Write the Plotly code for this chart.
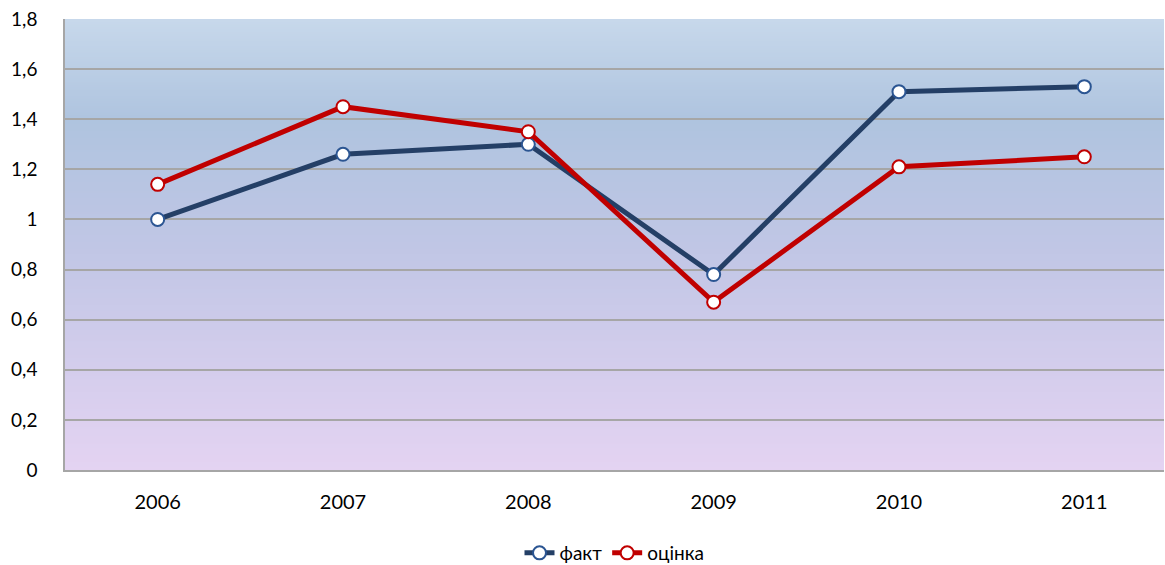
import base64
import struct
import zlib

import plotly.graph_objects as go

# Categories and series
years = ["2006", "2007", "2008", "2009", "2010", "2011"]
fact = [1.00, 1.26, 1.30, 0.78, 1.51, 1.53]
estimate = [1.14, 1.45, 1.35, 0.67, 1.21, 1.25]
y_ticks = [0, 0.2, 0.4, 0.6, 0.8, 1.0, 1.2, 1.4, 1.6, 1.8]

FONT = "Lato, 'Open Sans', sans-serif"


# Vertical gradient for the plot background, encoded as a tiny PNG
def lerp(c1, c2, t):
    return tuple(round(a + (b - a) * t) for a, b in zip(c1, c2))


stops = [(0.0, (199, 216, 235)), (0.22, (175, 196, 223)),
         (0.5, (192, 198, 229)), (1.0, (228, 211, 242))]


def grad(t):
    for (p0, c0), (p1, c1) in zip(stops[:-1], stops[1:]):
        if p0 <= t <= p1:
            return lerp(c0, c1, (t - p0) / (p1 - p0))
    return stops[-1][1]


def gradient_png(h=256, w=4):
    raw = b""
    for i in range(h):
        r, g, b = grad(i / (h - 1))
        raw += b"\x00" + bytes([r, g, b]) * w

    def chunk(tag, data):
        c = struct.pack(">I", len(data)) + tag + data
        return c + struct.pack(">I", zlib.crc32(tag + data) & 0xFFFFFFFF)

    png = b"\x89PNG\r\n\x1a\n"
    png += chunk(b"IHDR", struct.pack(">IIBBBBB", w, h, 8, 2, 0, 0, 0))
    png += chunk(b"IDAT", zlib.compress(raw))
    png += chunk(b"IEND", b"")
    return "data:image/png;base64," + base64.b64encode(png).decode()


fig = go.Figure()

fig.add_trace(go.Scatter(
    x=years, y=fact, name="факт", mode="lines+markers",
    line=dict(color="#243f66", width=5),
    marker=dict(size=13, color="white", line=dict(color="#2b5592", width=2)),
))
fig.add_trace(go.Scatter(
    x=years, y=estimate, name="оцінка", mode="lines+markers",
    line=dict(color="#c00000", width=5),
    marker=dict(size=13, color="white", line=dict(color="#c00000", width=2)),
))

fig.update_layout(
    width=1165, height=565,
    margin=dict(l=65, r=1, t=19, b=95, autoexpand=False),
    paper_bgcolor="white", plot_bgcolor="rgba(0,0,0,0)",
    separators=", ",
    font=dict(family=FONT, size=19, color="#000000"),
    images=[dict(source=gradient_png(), xref="x domain", yref="y domain",
                 x=0, y=1, sizex=1, sizey=1, sizing="stretch",
                 xanchor="left", yanchor="top", layer="below")],
    showlegend=True,
    legend=dict(orientation="h", x=0.5, xanchor="center", y=-0.184, yanchor="middle",
                font=dict(size=19), tracegroupgap=0),
    xaxis=dict(
        type="category", range=[-0.5, 5.43], automargin=False,
        showgrid=False, showline=True, linecolor="#a6a6a6", linewidth=1.5,
        ticks="", ticklabelstandoff=13, tickfont=dict(size=20),
    ),
    yaxis=dict(
        range=[0, 1.8], tickvals=y_ticks, automargin=False,
        showgrid=True, gridcolor="#a6a6a6", gridwidth=1.5,
        showline=True, linecolor="#a6a6a6", linewidth=1.5,
        zeroline=False, ticks="", ticklabelstandoff=22, tickfont=dict(size=19),
    ),
)

fig.write_html("out.html")
